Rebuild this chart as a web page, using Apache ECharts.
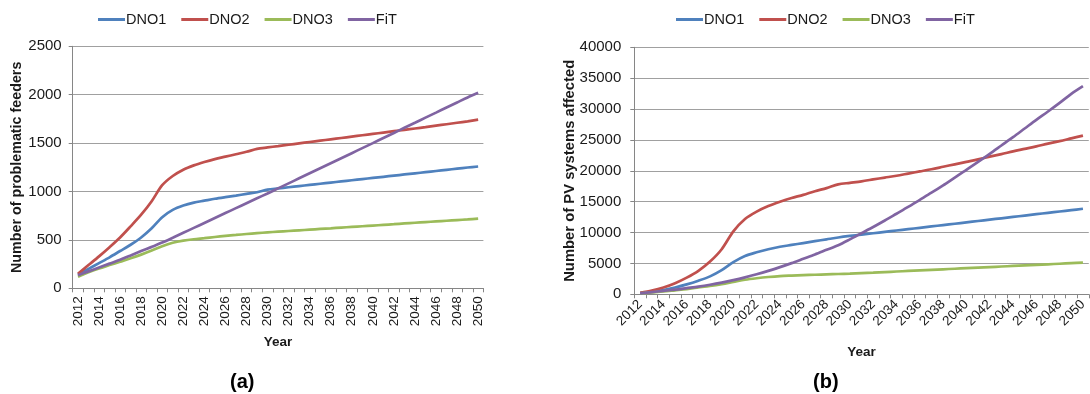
<!DOCTYPE html>
<html>
<head>
<meta charset="utf-8">
<script src="https://cdn.jsdelivr.net/npm/echarts@6/dist/echarts.min.js"></script>
<style>
html,body{margin:0;padding:0;background:#fff;}
#c{width:1090px;height:394px;}
</style>
</head>
<body>
<div id="c"></div>
<script>
const years = ['2012','2013','2014','2015','2016','2017','2018','2019','2020','2021','2022','2023','2024','2025','2026','2027','2028','2029','2030','2031','2032','2033','2034','2035','2036','2037','2038','2039','2040','2041','2042','2043','2044','2045','2046','2047','2048','2049','2050'];
const seriesNames = ['DNO1','DNO2','DNO3','FiT'];

// (a) Number of problematic feeders
const feedersDNO1 = [140,200,260,320,385,450,525,620,735,810,855,885,905,925,942,958,975,992,1020,1032,1044,1056,1068,1080,1092,1104,1116,1128,1140,1152,1164,1176,1188,1200,1212,1224,1236,1248,1258];
const feedersDNO2 = [150,240,330,425,525,640,760,900,1065,1160,1225,1270,1305,1335,1360,1385,1410,1440,1455,1469,1483,1497,1511,1525,1539,1553,1567,1581,1595,1609,1623,1637,1651,1665,1680,1695,1710,1725,1742];
const feedersDNO3 = [120,165,205,240,275,310,348,390,435,470,492,507,518,530,541,551,561,570,578,585,592,599,606,613,620,627,634,641,648,655,662,670,677,684,691,698,705,712,720];
const feedersFiT  = [135,175,215,255,295,340,385,428,472,522,573,624,675,726,777,828,879,930,980,1032,1084,1136,1188,1240,1292,1344,1396,1448,1500,1553,1605,1658,1710,1763,1815,1868,1920,1972,2020];

// (b) Number of PV systems affected
const pvDNO1 = [200,400,700,1100,1600,2200,2900,3900,5200,6200,6800,7300,7700,8000,8300,8600,8900,9200,9450,9670,9890,10110,10330,10550,10770,10990,11210,11430,11650,11870,12090,12310,12530,12750,12970,13190,13410,13630,13850];
const pvDNO2 = [250,600,1100,1800,2700,3800,5300,7300,10200,12200,13400,14300,15000,15600,16100,16700,17200,17800,18050,18300,18600,18900,19200,19550,19900,20250,20650,21050,21450,21850,22300,22700,23150,23550,23950,24400,24800,25250,25700];
const pvDNO3 = [150,300,450,650,850,1100,1350,1650,2000,2350,2600,2800,2950,3030,3100,3170,3230,3290,3350,3430,3510,3600,3690,3780,3870,3960,4050,4140,4230,4320,4410,4500,4590,4680,4770,4860,4950,5040,5130];
const pvFiT  = [150,350,550,750,1000,1250,1550,1900,2300,2750,3250,3800,4400,5050,5750,6450,7200,7950,8900,9900,10900,11950,13050,14150,15300,16450,17650,18900,20150,21450,22750,24100,25450,26850,28250,29600,31000,32450,33700];

const colors = ['#4F81BD','#C0504D','#9BBB59','#8064A2'];
const FONT = '"Liberation Sans", Arial, sans-serif';
const TXT = '#1a1a1a';

function catAxis(gridIndex, rotate, nameGap) {
  return {
    type: 'category', gridIndex: gridIndex, data: years, boundaryGap: true,
    name: 'Year', nameLocation: 'middle', nameGap: nameGap, nameMoveOverlap: false,
    nameTextStyle: {fontFamily: FONT, fontWeight: 'bold', fontSize: 13.5, color: TXT, verticalAlign: 'top'},
    axisLine: {lineStyle: {color: '#868686', width: 1}},
    axisTick: {show: true, interval: 0, length: 4, lineStyle: {color: '#868686'}},
    axisLabel: {interval: 1, rotate: rotate, margin: 8, fontFamily: FONT, fontSize: 13.5, color: TXT},
    splitLine: {show: false}
  };
}
function valAxis(gridIndex, max, interval, name, nameGap, margin, nameSize) {
  return {
    type: 'value', gridIndex: gridIndex, min: 0, max: max, interval: interval,
    name: name, nameLocation: 'middle', nameRotate: 90, nameGap: nameGap, nameMoveOverlap: false,
    nameTextStyle: {fontFamily: FONT, fontWeight: 'bold', fontSize: nameSize, color: TXT},
    axisLine: {show: true, lineStyle: {color: '#868686', width: 1}},
    axisTick: {show: true, length: 4, lineStyle: {color: '#868686'}},
    axisLabel: {margin: margin, fontFamily: FONT, fontSize: 15, color: TXT, formatter: function (v) { return String(v); }},
    splitLine: {show: true, lineStyle: {color: '#a0a0a0', width: 1}}
  };
}
function mkSeries(name, data, idx, axisIdx) {
  return {
    name: name, type: 'line', data: data, xAxisIndex: axisIdx, yAxisIndex: axisIdx,
    symbol: 'none', smooth: 0.3, color: colors[idx],
    lineStyle: {width: 2.7, color: colors[idx]}, z: 2 + idx
  };
}
const legendCommon = {
  data: seriesNames, orient: 'horizontal', itemWidth: 27, itemHeight: 3, itemGap: 15, padding: 0,
  textStyle: {fontFamily: FONT, fontSize: 14.5, color: TXT, padding: [0,0,0,-4]},
  icon: 'rect'
};

const chart = echarts.init(document.getElementById('c'), null, {renderer: 'canvas'});
chart.setOption({
  animation: false,
  backgroundColor: '#ffffff',
  legend: [
    Object.assign({}, legendCommon, {left: 98, top: 12}),
    Object.assign({}, legendCommon, {left: 676, top: 12})
  ],
  grid: [
    {left: 72.7, top: 46.3, width: 410.7, height: 242},
    {left: 634.3, top: 47.3, width: 455.7, height: 247}
  ],
  xAxis: [catAxis(0, 90, 47), catAxis(1, 45, 51)],
  yAxis: [
    valAxis(0, 2500, 500, 'Number of problematic feeders', 49, 11, 14.3),
    valAxis(1, 40000, 5000, 'Number of PV systems affected', 57, 13, 14.8)
  ],
  graphic: [
    {type: 'text', left: 230, top: 372, style: {text: '(a)', font: 'bold 20px ' + FONT, fill: '#000'}},
    {type: 'text', left: 813, top: 372, style: {text: '(b)', font: 'bold 20px ' + FONT, fill: '#000'}}
  ],
  series: [
    mkSeries('DNO1', feedersDNO1, 0, 0),
    mkSeries('DNO2', feedersDNO2, 1, 0),
    mkSeries('DNO3', feedersDNO3, 2, 0),
    mkSeries('FiT', feedersFiT, 3, 0),
    mkSeries('DNO1', pvDNO1, 0, 1),
    mkSeries('DNO2', pvDNO2, 1, 1),
    mkSeries('DNO3', pvDNO3, 2, 1),
    mkSeries('FiT', pvFiT, 3, 1)
  ]
});
</script>
</body>
</html>
